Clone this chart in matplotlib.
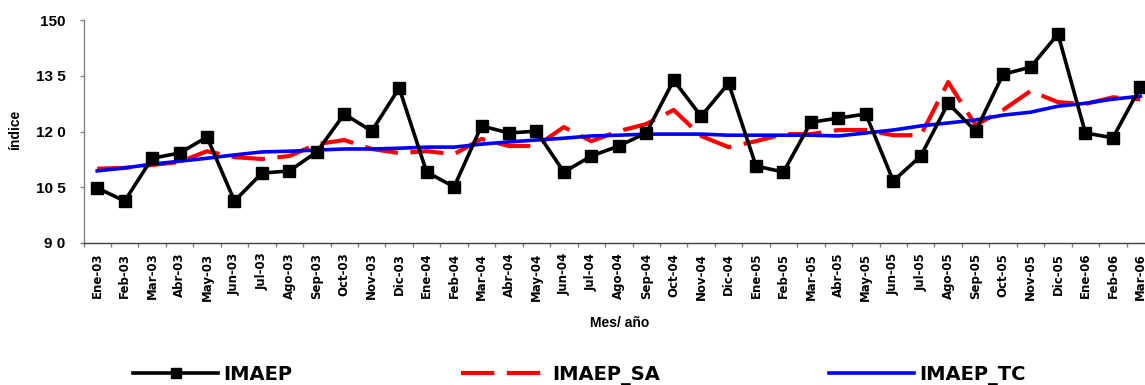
import matplotlib
matplotlib.use("Agg")
import matplotlib.pyplot as plt
import numpy as np
from matplotlib.ticker import FixedLocator

months = ["Ene", "Feb", "Mar", "Abr", "May", "Jun", "Jul", "Ago", "Sep", "Oct", "Nov", "Dic"]
labels = [f"{m}-{y:02d}" for y in (3, 4, 5) for m in months] + ["Ene-06", "Feb-06", "Mar-06"]

imaep = [104.8, 101.3, 112.8, 114.2, 118.5, 101.3, 108.8, 109.4, 114.5, 124.7, 120.1, 131.7,
         109.1, 105.1, 121.5, 119.6, 120.1, 109.1, 113.4, 116.1, 119.6, 133.8, 124.1, 133.0,
         110.7, 109.1, 122.5, 123.6, 124.7, 106.7, 113.4, 127.6, 120.1, 135.4, 137.3, 146.2,
         119.6, 118.3, 131.9]
imaep_sa = [110.0, 110.2, 111.0, 111.8, 114.7, 113.1, 112.6, 113.4, 116.6, 117.7, 115.3, 114.2,
            114.7, 113.9, 118.0, 116.1, 116.1, 121.2, 117.4, 120.1, 122.0, 125.8, 118.8, 115.8,
            117.4, 119.3, 119.3, 120.4, 120.4, 119.0, 119.0, 133.3, 121.7, 125.8, 130.9, 127.9,
            127.4, 129.2, 128.7]
imaep_tc = [109.4, 110.2, 111.2, 112.0, 112.8, 113.7, 114.5, 114.7, 115.0, 115.3, 115.3, 115.5,
            115.8, 115.8, 116.6, 117.2, 117.7, 118.2, 118.8, 119.0, 119.3, 119.3, 119.3, 119.0,
            119.0, 119.0, 119.0, 118.8, 119.6, 120.4, 121.5, 122.3, 123.1, 124.4, 125.2, 126.8,
            127.6, 128.7, 129.5]
yticks = [90, 105, 120, 135, 150]
ytick_labels = ["9 0", "10 5", "12 0", "13 5", "150"]

W, H = 1145, 385
fig = plt.figure(figsize=(W / 100, H / 100), dpi=100)
n = len(labels)
left = 83.5 / W
width = n * 27.45 / W
bottom = (H - 243) / H
height = 223 / H
ax = fig.add_axes([left, bottom, width, height])

x = np.arange(n)
l1, = ax.plot(x, imaep, color="black", lw=2.6, marker="s", ms=8, mfc="black", mec="black",
              label="IMAEP", zorder=3)
l2, = ax.plot(x, imaep_sa, color="#ff0000", lw=3, dashes=(8, 3), label="IMAEP_SA", zorder=2)
l3, = ax.plot(x, imaep_tc, color="#0000ff", lw=2.6, label="IMAEP_TC", zorder=2)

ax.set_xlim(-0.5, n - 0.5)
ax.set_ylim(90, 150)
ax.set_yticks(yticks)
ax.set_yticklabels(ytick_labels, fontsize=11, fontweight="bold", family="Liberation Sans")
ax.set_xticks(x)
ax.set_xticklabels(labels, rotation=90, fontsize=8.5, fontweight="bold", family="DejaVu Sans")
ax.xaxis.set_minor_locator(FixedLocator(np.arange(-0.5, n, 1)))
ax.tick_params(axis="x", which="major", length=0, pad=7)
ax.tick_params(axis="x", which="minor", length=3, color="#808080", width=1)
ax.tick_params(axis="y", which="major", length=3, color="#808080", width=1, pad=10)

for s in ("top", "right"):
    ax.spines[s].set_visible(False)
ax.spines["left"].set_color("#808080")
ax.spines["bottom"].set_color("#404040")
ax.spines["left"].set_linewidth(1)
ax.spines["bottom"].set_linewidth(1)

fig.text(620 / W, 1 - 323 / H, "Mes/ año", ha="center", va="center", fontsize=10,
         fontweight="bold", family="Liberation Sans")
fig.text(15 / W, 1 - 130 / H, "índice", ha="center", va="center", rotation=90, fontsize=10,
         fontweight="bold", family="Liberation Sans")

leg = fig.legend(handles=[l1, l2, l3], loc="center left", bbox_to_anchor=(125 / W, 1 - 375 / H),
                 ncol=3, frameon=False, handlelength=4.4, handletextpad=0.25,
                 columnspacing=8.7, borderaxespad=0,
                 prop={"family": ["Liberation Sans Narrow", "DejaVu Sans"], "weight": "bold", "size": 14})
for lh in leg.legend_handles:
    lh.set_markersize(7)

fig.savefig("out.png", dpi=100)
